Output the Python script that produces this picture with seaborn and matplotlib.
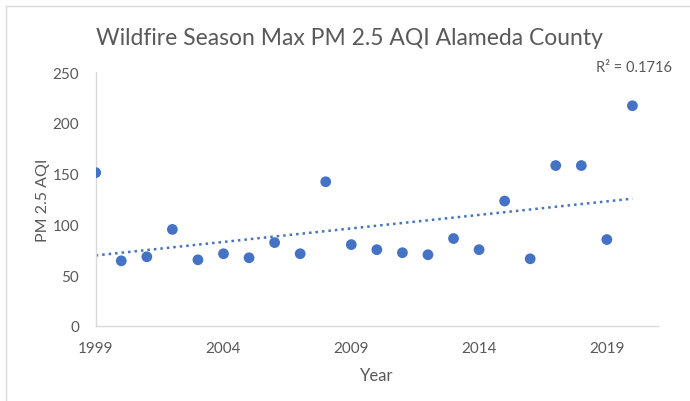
import matplotlib
matplotlib.use("Agg")
import matplotlib.pyplot as plt
import seaborn as sns
import pandas as pd
from matplotlib.lines import Line2D

years = [1999, 2000, 2001, 2002, 2003, 2004, 2005, 2006, 2007, 2008, 2009,
         2010, 2011, 2012, 2013, 2014, 2015, 2016, 2017, 2018, 2019, 2020]
aqi = [151, 64, 68, 95, 65, 71, 67, 82, 71, 142, 80,
       75, 72, 70, 86, 75, 123, 66, 158, 158, 85, 217]
x_ticks = [1999, 2004, 2009, 2014, 2019]
y_ticks = [0, 50, 100, 150, 200, 250]
title = "Wildfire Season Max PM 2.5 AQI Alameda County"
r2_label = "R² = 0.1716"

df = pd.DataFrame({"Year": years, "AQI": aqi})

sns.set_theme(style="white")
plt.rcParams["font.family"] = ["Lato", "DejaVu Sans"]

TXT = "#595959"
BLUE = "#4472C4"

fig = plt.figure(figsize=(6.9, 4.02), dpi=100)
ax = fig.add_axes([0.1387, 0.1873, 0.9536 - 0.1387, 0.8177 - 0.1873])

sns.regplot(data=df, x="Year", y="AQI", ax=ax, ci=None, truncate=True,
            scatter_kws=dict(s=60, color=BLUE, edgecolor="none", alpha=1, zorder=3),
            line_kws=dict(color=BLUE, linestyle=(0, (1, 1.6)), linewidth=1.8, zorder=2))

ax.set_xlim(1999, 2021)
ax.set_ylim(0, 250)
ax.set_xticks(x_ticks)
ax.set_yticks(y_ticks)
ax.tick_params(axis="both", length=0, labelsize=11, labelcolor=TXT)
ax.tick_params(axis="y", pad=12)
ax.tick_params(axis="x", pad=11)

for s in ["top", "right"]:
    ax.spines[s].set_visible(False)
for s in ["left", "bottom"]:
    ax.spines[s].set_color("#D9D9D9")
    ax.spines[s].set_linewidth(1.0)

ax.set_xlabel("Year", fontsize=12, color=TXT, labelpad=9)
ax.set_ylabel("PM 2.5 AQI", fontsize=11.5, color=TXT, labelpad=2)

fig.text(0.507, 0.905, title, fontsize=16.5, color=TXT, ha="center", va="center")
fig.text(0.974, 0.830, r2_label, fontsize=10.5, color=TXT, ha="right", va="center")

fig.add_artist(Line2D([6 / 690, 1], [1 - 7 / 402, 1 - 7 / 402], color="#D9D9D9", linewidth=1.0))
fig.add_artist(Line2D([6 / 690, 6 / 690], [0, 1 - 7 / 402], color="#D9D9D9", linewidth=1.0))

fig.savefig("out.png", dpi=100, facecolor="white")
